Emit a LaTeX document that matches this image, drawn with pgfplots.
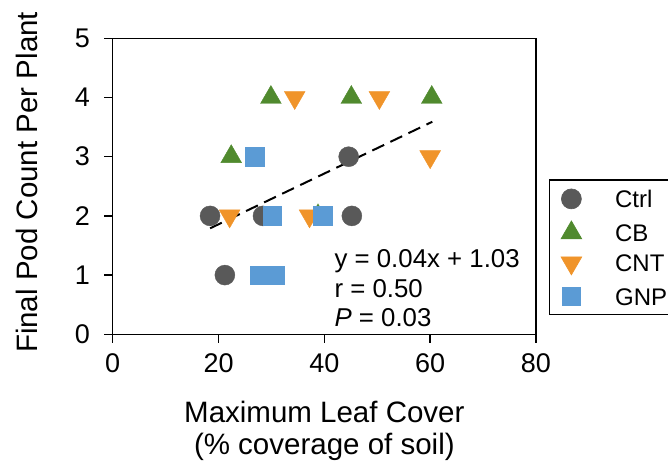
\documentclass[border=0pt]{standalone}
\usepackage{fontspec}
\setmainfont{Liberation Sans}
\usepackage{pgfplots}
\pgfplotsset{compat=1.18}
\definecolor{ctrl}{RGB}{89,89,89}
\definecolor{cb}{RGB}{80,138,46}
\definecolor{cnt}{RGB}{240,148,42}
\definecolor{gnp}{RGB}{91,155,213}
\begin{document}
\begin{tikzpicture}
\begin{axis}[
  scale only axis, width=423.3pt, height=296pt,
  xmin=0, xmax=80, ymin=0, ymax=5,
  xtick={0,20,40,60,80}, ytick={0,1,2,3,4,5},
  tick align=outside, major tick length=8.5pt,
  xtick pos=bottom, ytick pos=left,
  axis line style={line width=1.4pt},
  every tick/.style={line width=1.4pt, black},
  tick label style={font=\fontsize{27}{30}\selectfont, inner sep=0pt},
  xticklabel style={anchor=north, yshift=-11pt},
  yticklabel style={anchor=east, xshift=-14pt},
  /pgf/number format/assume math mode=true,
  xlabel={Maximum Leaf Cover\\(\% coverage of soil)},
  xlabel style={align=center, font=\fontsize{29.5}{32}\selectfont, at={(rel axis cs:0.5,0)}, anchor=center, yshift=-97pt},
  ylabel={Final Pod Count Per Plant},
  ylabel style={font=\fontsize{29.5}{32}\selectfont, at={(rel axis cs:-0.2032,0.513)}, anchor=center},
  legend style={at={(rel axis cs:1,0)}, anchor=south west, xshift=13pt, yshift=19.3pt,
    draw=black, line width=1.4pt, font=\fontsize{24}{30}\selectfont,
    inner xsep=11pt, inner ysep=9pt, row sep=12pt,
    nodes={inner sep=0pt, text height=18pt, text depth=0pt},
    /tikz/every odd column/.append style={column sep=33pt},
    /tikz/every even column/.append style={text width=60pt}},
  legend cell align=left,
  legend image code/.code={\draw[#1, line width=0.6pt] plot coordinates {(10pt,0pt)}; \path (0pt,0pt) (20pt,0pt);},
]
% trend line (drawn first)
\addplot[forget plot, black, line width=2pt, dash pattern=on 13pt off 7pt] coordinates {(18.4,1.79) (60.4,3.59)};
% Ctrl
\addplot[only marks, mark=*, mark size=10pt, color=ctrl, mark options={draw=ctrl, fill=ctrl}] coordinates {
(18.4,2) (28.4,2) (44.6,3) (45.2,2) (21.2,1)};
\addlegendentry{Ctrl}
% CB
\addplot[only marks, mark=triangle*, mark size=12pt, color=cb, mark options={draw=cb, fill=cb}] coordinates {
(29.9,4) (45.1,4) (60.3,4) (22.4,3) (38.8,2)};
\addlegendentry{CB}
% CNT
\addplot[only marks, mark=triangle*, mark size=12pt, color=cnt, mark options={draw=cnt, fill=cnt, rotate=180}] coordinates {
(34.4,4) (50.4,4) (60.0,3) (22.1,2) (37.2,2)};
\addlegendentry{CNT}
% GNP
\addplot[only marks, mark=square*, mark size=9.2pt, color=gnp, mark options={draw=gnp, fill=gnp}] coordinates {
(26.8,3) (30.1,2) (39.7,2) (27.8,1) (30.7,1)};
\addlegendentry{GNP}
\node[anchor=base west, font=\fontsize{25.8}{30}\selectfont, inner sep=0pt] at (axis cs:41.9,1.135) {y = 0.04x + 1.03};
\node[anchor=base west, font=\fontsize{25.8}{30}\selectfont, inner sep=0pt] at (axis cs:41.9,0.628) {r = 0.50};
\node[anchor=base west, font=\fontsize{25.8}{30}\selectfont, inner sep=0pt] at (axis cs:41.9,0.137) {\textit{P} = 0.03};
\end{axis}
\pgfresetboundingbox
\useasboundingbox (-112.7pt,-130.7pt) rectangle (555.3pt,334.3pt);
\end{tikzpicture}
\end{document}
